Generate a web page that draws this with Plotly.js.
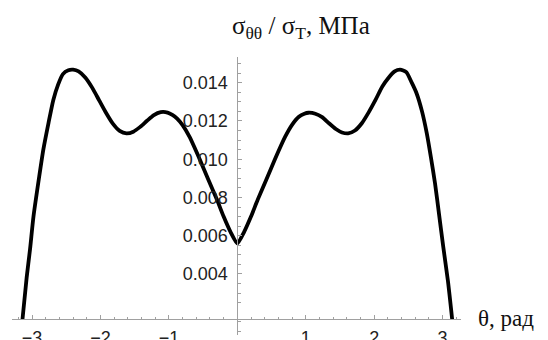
<!DOCTYPE html>
<html>
<head>
<meta charset="utf-8">
<script src="https://cdn.plot.ly/plotly-3.0.1.min.js"></script>
<style>html,body{margin:0;padding:0;background:#fff;}#plot{width:548px;height:340px;}</style>
</head>
<body>
<div id="plot"></div>
<script>
// θ (rad) and σθθ/σT values
const theta = [-3.1416, -3.08, -3.03, -2.98, -2.90, -2.836, -2.76, -2.69, -2.62, -2.55, -2.47, -2.40, -2.32, -2.22, -2.12, -2.02, -1.92, -1.82, -1.72, -1.62, -1.52, -1.42, -1.32, -1.22, -1.12, -1.02, -0.95, -0.88, -0.80, -0.70, -0.55, -0.42, -0.30, -0.20, -0.10, 0,
               0.10, 0.20, 0.30, 0.42, 0.55, 0.70, 0.80, 0.90, 0.98, 1.04, 1.14, 1.24, 1.34, 1.44, 1.53, 1.62, 1.72, 1.82, 1.92, 2.02, 2.12, 2.22, 2.30, 2.38, 2.47, 2.55, 2.62, 2.70, 2.77, 2.83, 2.89, 2.95, 3.01, 3.08, 3.1416];
const sigma = [0.0016, 0.0038, 0.0053, 0.0070, 0.0090, 0.0105, 0.0119, 0.0131, 0.0139, 0.01445, 0.01465, 0.01468, 0.01459, 0.01426, 0.01373, 0.01308, 0.01243, 0.01186, 0.01148, 0.01135, 0.01144, 0.01169, 0.01201, 0.01231, 0.01246, 0.01244, 0.01232, 0.01212, 0.01178, 0.01118, 0.0100, 0.0089, 0.0079, 0.0070, 0.0062, 0.0056,
               0.0062, 0.0070, 0.0079, 0.0089, 0.0100, 0.01118, 0.0118, 0.01222, 0.01238, 0.01243, 0.01238, 0.0122, 0.01188, 0.01158, 0.0114, 0.01135, 0.0115, 0.01188, 0.01245, 0.0131, 0.0138, 0.0143, 0.01459, 0.01468, 0.01455, 0.0140, 0.01345, 0.0125, 0.01135, 0.0101, 0.00874, 0.0071, 0.00543, 0.0036, 0.0016];

const xTickVals = [-3, -2, -1, 1, 2, 3];
const xTickText = ['\u22123', '\u22122', '\u22121', '1', '2', '3'];
const yTickVals = [0.004, 0.006, 0.008, 0.010, 0.012, 0.014];
const yTickText = ['0.004', '0.006', '0.008', '0.010', '0.012', '0.014'];

const xMinor = [];
for (let i = -16; i <= 16; i++) { if (i % 5 !== 0) xMinor.push(i * 0.2); }
const yMinor = [];
for (let i = 1; i <= 30; i++) { if (i % 4 !== 0) yMinor.push(i * 0.0005); }

const xRange = [-3.294, 3.270];
const yRange = [0.000808, 0.015344];
const xCross = 0.00163;

const axisCol = '#a0a0a0';
const tickFont = {family: 'Arial, "Liberation Sans", sans-serif', size: 18, color: '#222'};

const trace = {
  x: theta, y: sigma, type: 'scatter', mode: 'lines',
  line: {color: '#000', width: 3.8, shape: 'spline', smoothing: 0.6},
  hoverinfo: 'skip'
};

const layout = {
  width: 548, height: 340,
  margin: {l: 12, r: 87, t: 57, b: 5},
  paper_bgcolor: '#fff', plot_bgcolor: 'rgba(0,0,0,0)',
  showlegend: false,
  xaxis: {
    range: xRange, showgrid: false, zeroline: false,
    showline: true, linecolor: axisCol, linewidth: 1,
    anchor: 'free', position: (xCross - yRange[0]) / (yRange[1] - yRange[0]),
    tickmode: 'array', tickvals: xTickVals, ticktext: xTickText,
    ticks: 'inside', ticklen: 4, tickcolor: axisCol, tickwidth: 1,
    ticklabelstandoff: 2,
    tickfont: tickFont,
    minor: {tickmode: 'array', tickvals: xMinor, ticks: 'inside', ticklen: 2.5, tickcolor: axisCol, showgrid: false}
  },
  yaxis: {
    range: yRange, showgrid: false, zeroline: false,
    showline: true, linecolor: axisCol, linewidth: 1,
    anchor: 'free', position: (0 - xRange[0]) / (xRange[1] - xRange[0]),
    tickmode: 'array', tickvals: yTickVals, ticktext: yTickText,
    ticks: 'inside', ticklen: 4, tickcolor: axisCol, tickwidth: 1,
    ticklabelstandoff: 6,
    tickfont: tickFont,
    minor: {tickmode: 'array', tickvals: yMinor, ticks: 'inside', ticklen: 2.5, tickcolor: axisCol, showgrid: false}
  },
  annotations: [
    {text: '\u03C3<sub>\u03B8\u03B8</sub> / \u03C3<sub>T</sub>, МПа', xref: 'paper', yref: 'paper',
     x: (230 - 12) / 449, y: (335 - 28) / 278, xanchor: 'left', yanchor: 'middle', showarrow: false,
     font: {family: '"Liberation Serif", "Times New Roman", serif', size: 25, color: '#111'}},
    {text: '\u03B8, рад', xref: 'paper', yref: 'paper',
     x: (476 - 12) / 449, y: (335 - 318) / 278, xanchor: 'left', yanchor: 'middle', showarrow: false,
     font: {family: '"Liberation Serif", "Times New Roman", serif', size: 23, color: '#111'}}
  ]
};

Plotly.newPlot('plot', [trace], layout, {displayModeBar: false, staticPlot: true});
</script>
</body>
</html>
